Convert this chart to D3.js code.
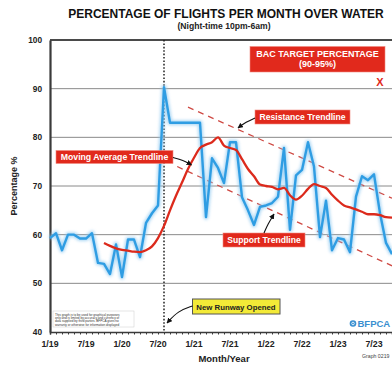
<!DOCTYPE html>
<html>
<head>
<meta charset="utf-8">
<script src="https://cdn.jsdelivr.net/npm/d3@7"></script>
<style>
  html, body { margin: 0; padding: 0; background: #fff; }
  svg { display: block; font-family: "Liberation Sans", Arial, sans-serif; }
</style>
</head>
<body>
<svg id="chart" width="392" height="367"></svg>
<script>
// Monthly share of night-time flights routed over water, starting Jan 2019 (month index 0)
const overWater = [
  59.3, 60.3, 56.8, 60, 60, 59.2, 59.2, 60.3, 54.2, 54, 51.9, 58, 51.3, 59, 59, 55.4,
  62.4, 64.4, 66, 90.3, 83, 83, 83, 83, 83, 83, 63.6, 75.7, 73.7, 70.6, 79, 79,
  67.7, 65, 62, 65.7, 66, 66.5, 67.8, 77.8, 61, 72.2, 73.3, 79, 74, 59.5, 67, 56.8,
  59.3, 59, 56.4, 67.8, 72, 71.2, 72.4, 64.4, 58.3, 56
];
// Moving average, first available at month index 9
const movingAvgStart = 9;
const movingAvg = [
  58.3, 57.7, 57.2, 56.9, 56.7, 56.5, 56.4, 56.8, 57.6, 59.3, 61.8, 65, 68, 70.7,
  73.5, 75.8, 77.8, 78.5, 79, 80, 78.3, 77.8, 77.4, 75.5, 73.5, 72, 70.3, 70, 69.8,
  69.3, 69.6, 68.1, 67.2, 68, 69.4, 70.4, 70, 69.6, 68.2, 67, 66, 65.6, 65.2, 64.7,
  64.2, 64.2, 64, 63.6, 63.5
];
// Trendline end points: [month index, percentage]
const resistance = [[23, 86.2], [57, 67.5]];
const support = [[21.2, 74], [57, 53.6]];
// Month the new runway opened, and the BAC target marker
const runwayMonth = 19;
const targetMarker = [55, 91.3];

const yTicks = [40, 50, 60, 70, 80, 90, 100];
const xTickMonths = [0, 6, 12, 18, 24, 30, 36, 42, 48, 54];
const xTickLabels = ["1/19", "7/19", "1/20", "7/20", "1/21", "7/21", "1/22", "7/22", "1/23", "7/23"];

const svg = d3.select("#chart");
const plotL = 50, plotR = 392, plotT = 40, plotB = 332;

const x = d3.scaleLinear().domain([0, 57]).range([plotL, plotR]);
const y = d3.scaleLinear().domain([40, 100]).range([plotB, plotT]);

const defs = svg.append("defs");
defs.append("filter").attr("id", "glow").attr("x", "-10%").attr("y", "-10%")
  .attr("width", "120%").attr("height", "120%")
  .append("feGaussianBlur").attr("stdDeviation", 1.6);
const mk = defs.append("marker").attr("id", "arrow").attr("viewBox", "0 0 10 10")
  .attr("refX", 9).attr("refY", 5).attr("markerWidth", 5).attr("markerHeight", 5)
  .attr("orient", "auto-start-reverse");
mk.append("path").attr("d", "M0,0 L10,5 L0,10 z").attr("fill", "#111");

// Titles
svg.append("text").attr("x", 226).attr("y", 17.5).attr("text-anchor", "middle")
  .attr("font-size", 12).attr("font-weight", "bold").attr("fill", "#111")
  .text("PERCENTAGE OF FLIGHTS PER MONTH OVER WATER");
svg.append("text").attr("x", 224).attr("y", 29).attr("text-anchor", "middle")
  .attr("font-size", 8.6).attr("font-weight", "bold").attr("fill", "#222")
  .text("(Night-time 10pm-6am)");

// Horizontal gridlines
svg.append("g").selectAll("line").data(yTicks.filter(d => d > 40 && d < 100)).join("line")
  .attr("x1", plotL).attr("x2", plotR).attr("y1", d => y(d)).attr("y2", d => y(d))
  .attr("stroke", "#8a8a8a").attr("stroke-width", 1);
svg.append("line").attr("x1", plotL).attr("x2", plotR).attr("y1", y(100)).attr("y2", y(100))
  .attr("stroke", "#4a4a4a").attr("stroke-width", 2);

// Y axis
const yAxis = svg.append("g").attr("transform", `translate(${plotL},0)`)
  .call(d3.axisLeft(y).tickValues(yTicks).tickSize(0).tickPadding(8));
yAxis.select(".domain").attr("stroke", "#3a3a3a").attr("stroke-width", 2.2);
yAxis.selectAll("text").attr("font-size", 8.3).attr("font-weight", "bold")
  .attr("fill", "#222").attr("font-family", "Liberation Sans, Arial, sans-serif");

// X axis with monthly ticks
const xAxis = svg.append("g").attr("transform", `translate(0,${plotB})`)
  .call(d3.axisBottom(x).tickValues(d3.range(0, 58)).tickSize(2.5).tickFormat(""));
xAxis.select(".domain").attr("stroke", "#3a3a3a").attr("stroke-width", 1.6);
xAxis.selectAll(".tick line").attr("stroke", "#3a3a3a").attr("stroke-width", 1);
svg.append("g").selectAll("text").data(xTickMonths).join("text")
  .attr("x", d => x(d)).attr("y", 346.5).attr("text-anchor", "middle")
  .attr("font-size", 8.8).attr("font-weight", "bold").attr("fill", "#222")
  .text((d, i) => xTickLabels[i]);

svg.append("text").attr("x", 224).attr("y", 362).attr("text-anchor", "middle")
  .attr("font-size", 9.5).attr("font-weight", "bold").attr("fill", "#222").text("Month/Year");
svg.append("text").attr("transform", `translate(17,${(plotT + plotB) / 2}) rotate(-90)`)
  .attr("text-anchor", "middle").attr("font-size", 9).attr("font-weight", "bold")
  .attr("fill", "#222").text("Percentage %");

// Runway opening marker
svg.append("line").attr("x1", x(runwayMonth)).attr("x2", x(runwayMonth))
  .attr("y1", plotT).attr("y2", plotB)
  .attr("stroke", "#222").attr("stroke-width", 1.5).attr("stroke-dasharray", "1.6,1.8");

// Trendlines
const tl = d3.line().x(d => x(d[0])).y(d => y(d[1]));
[resistance, support].forEach(seg => {
  svg.append("path").attr("d", tl(seg)).attr("fill", "none")
    .attr("stroke", "#cf4a44").attr("stroke-width", 1.3).attr("stroke-dasharray", "6,5");
});

// Over-water series with soft glow
const lineBlue = d3.line().x((d, i) => x(i)).y(d => y(d));
svg.append("path").attr("d", lineBlue(overWater)).attr("fill", "none")
  .attr("stroke", "#8cc8f0").attr("stroke-width", 5).attr("opacity", 0.7)
  .attr("stroke-linejoin", "round").attr("filter", "url(#glow)");
svg.append("path").attr("d", lineBlue(overWater)).attr("fill", "none")
  .attr("stroke", "#2f9de3").attr("stroke-width", 2.4).attr("stroke-linejoin", "round");

// Moving average
const lineRed = d3.line().x((d, i) => x(movingAvgStart + i)).y(d => y(d)).curve(d3.curveMonotoneX);
svg.append("path").attr("d", lineRed(movingAvg)).attr("fill", "none")
  .attr("stroke", "#dc2a1c").attr("stroke-width", 2.3).attr("stroke-linejoin", "round");

// Annotation boxes
function redBox(x0, y0, w, h, lines, fs, lineGap) {
  svg.append("rect").attr("x", x0).attr("y", y0).attr("width", w).attr("height", h)
    .attr("fill", "#e1291c").attr("stroke", "#f08a80").attr("stroke-width", 0.6);
  lines.forEach((t, i) => {
    svg.append("text").attr("x", x0 + w / 2)
      .attr("y", y0 + h / 2 + fs * 0.36 + (i - (lines.length - 1) / 2) * lineGap)
      .attr("text-anchor", "middle").attr("font-size", fs).attr("font-weight", "bold")
      .attr("fill", "#fff").text(t);
  });
}
function arrow(pts) {
  svg.append("path").attr("d", d3.line().curve(d3.curveBasis)(pts)).attr("fill", "none")
    .attr("stroke", "#111").attr("stroke-width", 1.1).attr("marker-end", "url(#arrow)");
}

redBox(250, 46.5, 135, 25.5, ["BAC TARGET PERCENTAGE", "(90-95%)"], 9, 10);
svg.append("text").attr("x", x(targetMarker[0])).attr("y", y(targetMarker[1]) + 3.8)
  .attr("text-anchor", "middle").attr("font-size", 11).attr("font-weight", "bold")
  .attr("fill", "#e1291c").text("X");

redBox(255, 110, 95, 14, ["Resistance Trendline"], 8.6, 0);
arrow([[255, 118], [246, 122], [238, 128]]);

redBox(56, 150.5, 117, 13, ["Moving Average Trendline"], 8.7, 0);
arrow([[173, 157.5], [183, 160], [191.5, 165]]);

redBox(223, 233, 82, 14, ["Support Trendline"], 8.6, 0);
arrow([[264, 233], [268, 224], [274, 214]]);

// Runway opened label
svg.append("rect").attr("x", 192.5).attr("y", 299).attr("width", 87.5).attr("height", 15)
  .attr("fill", "#f3ea37").attr("stroke", "#555").attr("stroke-width", 1);
svg.append("text").attr("x", 236).attr("y", 309.5).attr("text-anchor", "middle")
  .attr("font-size", 7.8).attr("font-weight", "bold").attr("fill", "#222").text("New Runway Opened");
arrow([[192.5, 306], [178, 311], [167, 323]]);

// Disclaimer
svg.append("rect").attr("x", 53).attr("y", 311).attr("width", 81).attr("height", 16)
  .attr("fill", "#fff").attr("stroke", "#ccc").attr("stroke-width", 0.5);
const disclaimer = [
  "This graph is to be used for graphical purposes",
  "only and is limited by accuracy and currency of",
  "data supplied by third parties. BFPCA gives no",
  "warranty or otherwise for information displayed"
];
svg.append("g").selectAll("text").data(disclaimer).join("text")
  .attr("x", 55).attr("y", (d, i) => 315.5 + i * 3.4)
  .attr("font-size", 3.1).attr("fill", "#333").text(d => d);

// Logo and graph reference
svg.append("circle").attr("cx", 353).attr("cy", 323.5).attr("r", 3.3).attr("fill", "#3a8fd0");
svg.append("circle").attr("cx", 353).attr("cy", 323.5).attr("r", 1.3).attr("fill", "none")
  .attr("stroke", "#fff").attr("stroke-width", 0.8);
svg.append("text").attr("x", 357.5).attr("y", 327).attr("font-size", 9.5).attr("font-weight", "bold")
  .attr("fill", "#3a8fd0").text("BFPCA");
svg.append("text").attr("x", 362).attr("y", 358).attr("font-size", 5.2).attr("fill", "#444")
  .text("Graph 0219");
</script>
</body>
</html>
